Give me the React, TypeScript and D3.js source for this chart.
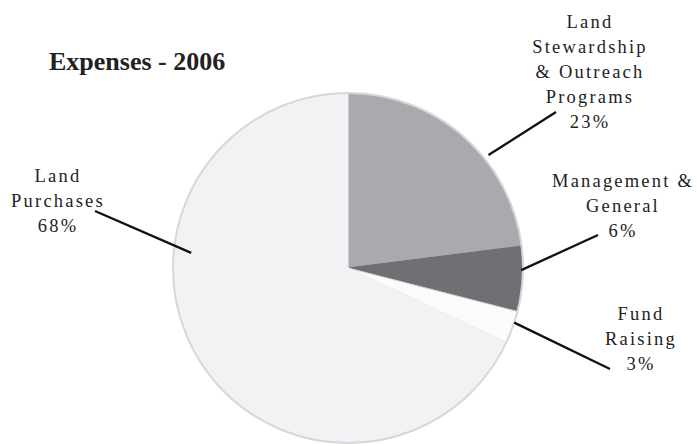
import React from "react";
import * as d3 from "d3";

const categories = ["Land Stewardship & Outreach Programs", "Management & General", "Fund Raising", "Land Purchases"];
const values = [23, 6, 3, 68];
const colors = ["#a9aaae", "#6f7074", "#fbfbfb", "#f1f2f4"];
const labelLines = [
  ["Land", "Stewardship", "& Outreach", "Programs", "23%"],
  ["Management &", "General", "6%"],
  ["Fund", "Raising", "3%"],
  ["Land", "Purchases", "68%"],
];
const title = "Expenses - 2006";

const W = 698, H = 444;
const cx = 348, cy = 268, R = 175;

// label anchor (center x, first baseline) and leader geometry
const labelPos = [
  { x: 590, y: 28 },
  { x: 623, y: 187 },
  { x: 641, y: 320 },
  { x: 58, y: 182 },
];
const leaderEnds = [
  { x: 556, y: 112 },
  { x: 598, y: 235 },
  { x: 610, y: 369 },
  { x: 95, y: 211 },
];
const leaderStartAngle = [51.2, 90.7, 108.2, 275.5];
const leaderStartR = [1.03, 0.99, 1.0, 0.9];

const FONT = "Liberation Serif";

export default function App() {
  const pie = d3.pie<number>().sort(null).value((d) => d);
  const arcs = pie(values);
  const arc = d3.arc<d3.PieArcDatum<number>>().innerRadius(0).outerRadius(R);
  const lh = 25;
  return (
    <svg width={W} height={H} style={{ position: "absolute", left: 0, top: 0, background: "#fff" }}>
      <g transform={`translate(${cx},${cy})`}>
        {arcs.map((a, i) => (
          <path key={i} d={arc(a) || ""} fill={colors[i]} stroke={i === 2 ? "#d4d5d8" : colors[i]} strokeWidth={1} />
        ))}
        <circle r={R} fill="none" stroke="#d6d7da" strokeWidth={2} />
      </g>
      {leaderEnds.map((e, i) => {
        const ang = (leaderStartAngle[i] * Math.PI) / 180;
        const r = leaderStartR[i] * R;
        const x1 = cx + r * Math.sin(ang);
        const y1 = cy - r * Math.cos(ang);
        return <line key={i} x1={x1} y1={y1} x2={e.x} y2={e.y} stroke="#111" strokeWidth={2.3} />;
      })}
      {labelLines.map((lines, i) => (
        <text key={i} textAnchor="middle" fontFamily={FONT} fontSize={18.5} letterSpacing={2.2} fill="#222">
          {lines.map((t, j) => (
            <tspan key={j} x={labelPos[i].x} y={labelPos[i].y + j * lh}>{t}</tspan>
          ))}
        </text>
      ))}
      <text x={49} y={70} fontFamily={FONT} fontWeight="bold" fontSize={26} fill="#222">{title}</text>
    </svg>
  );
}
